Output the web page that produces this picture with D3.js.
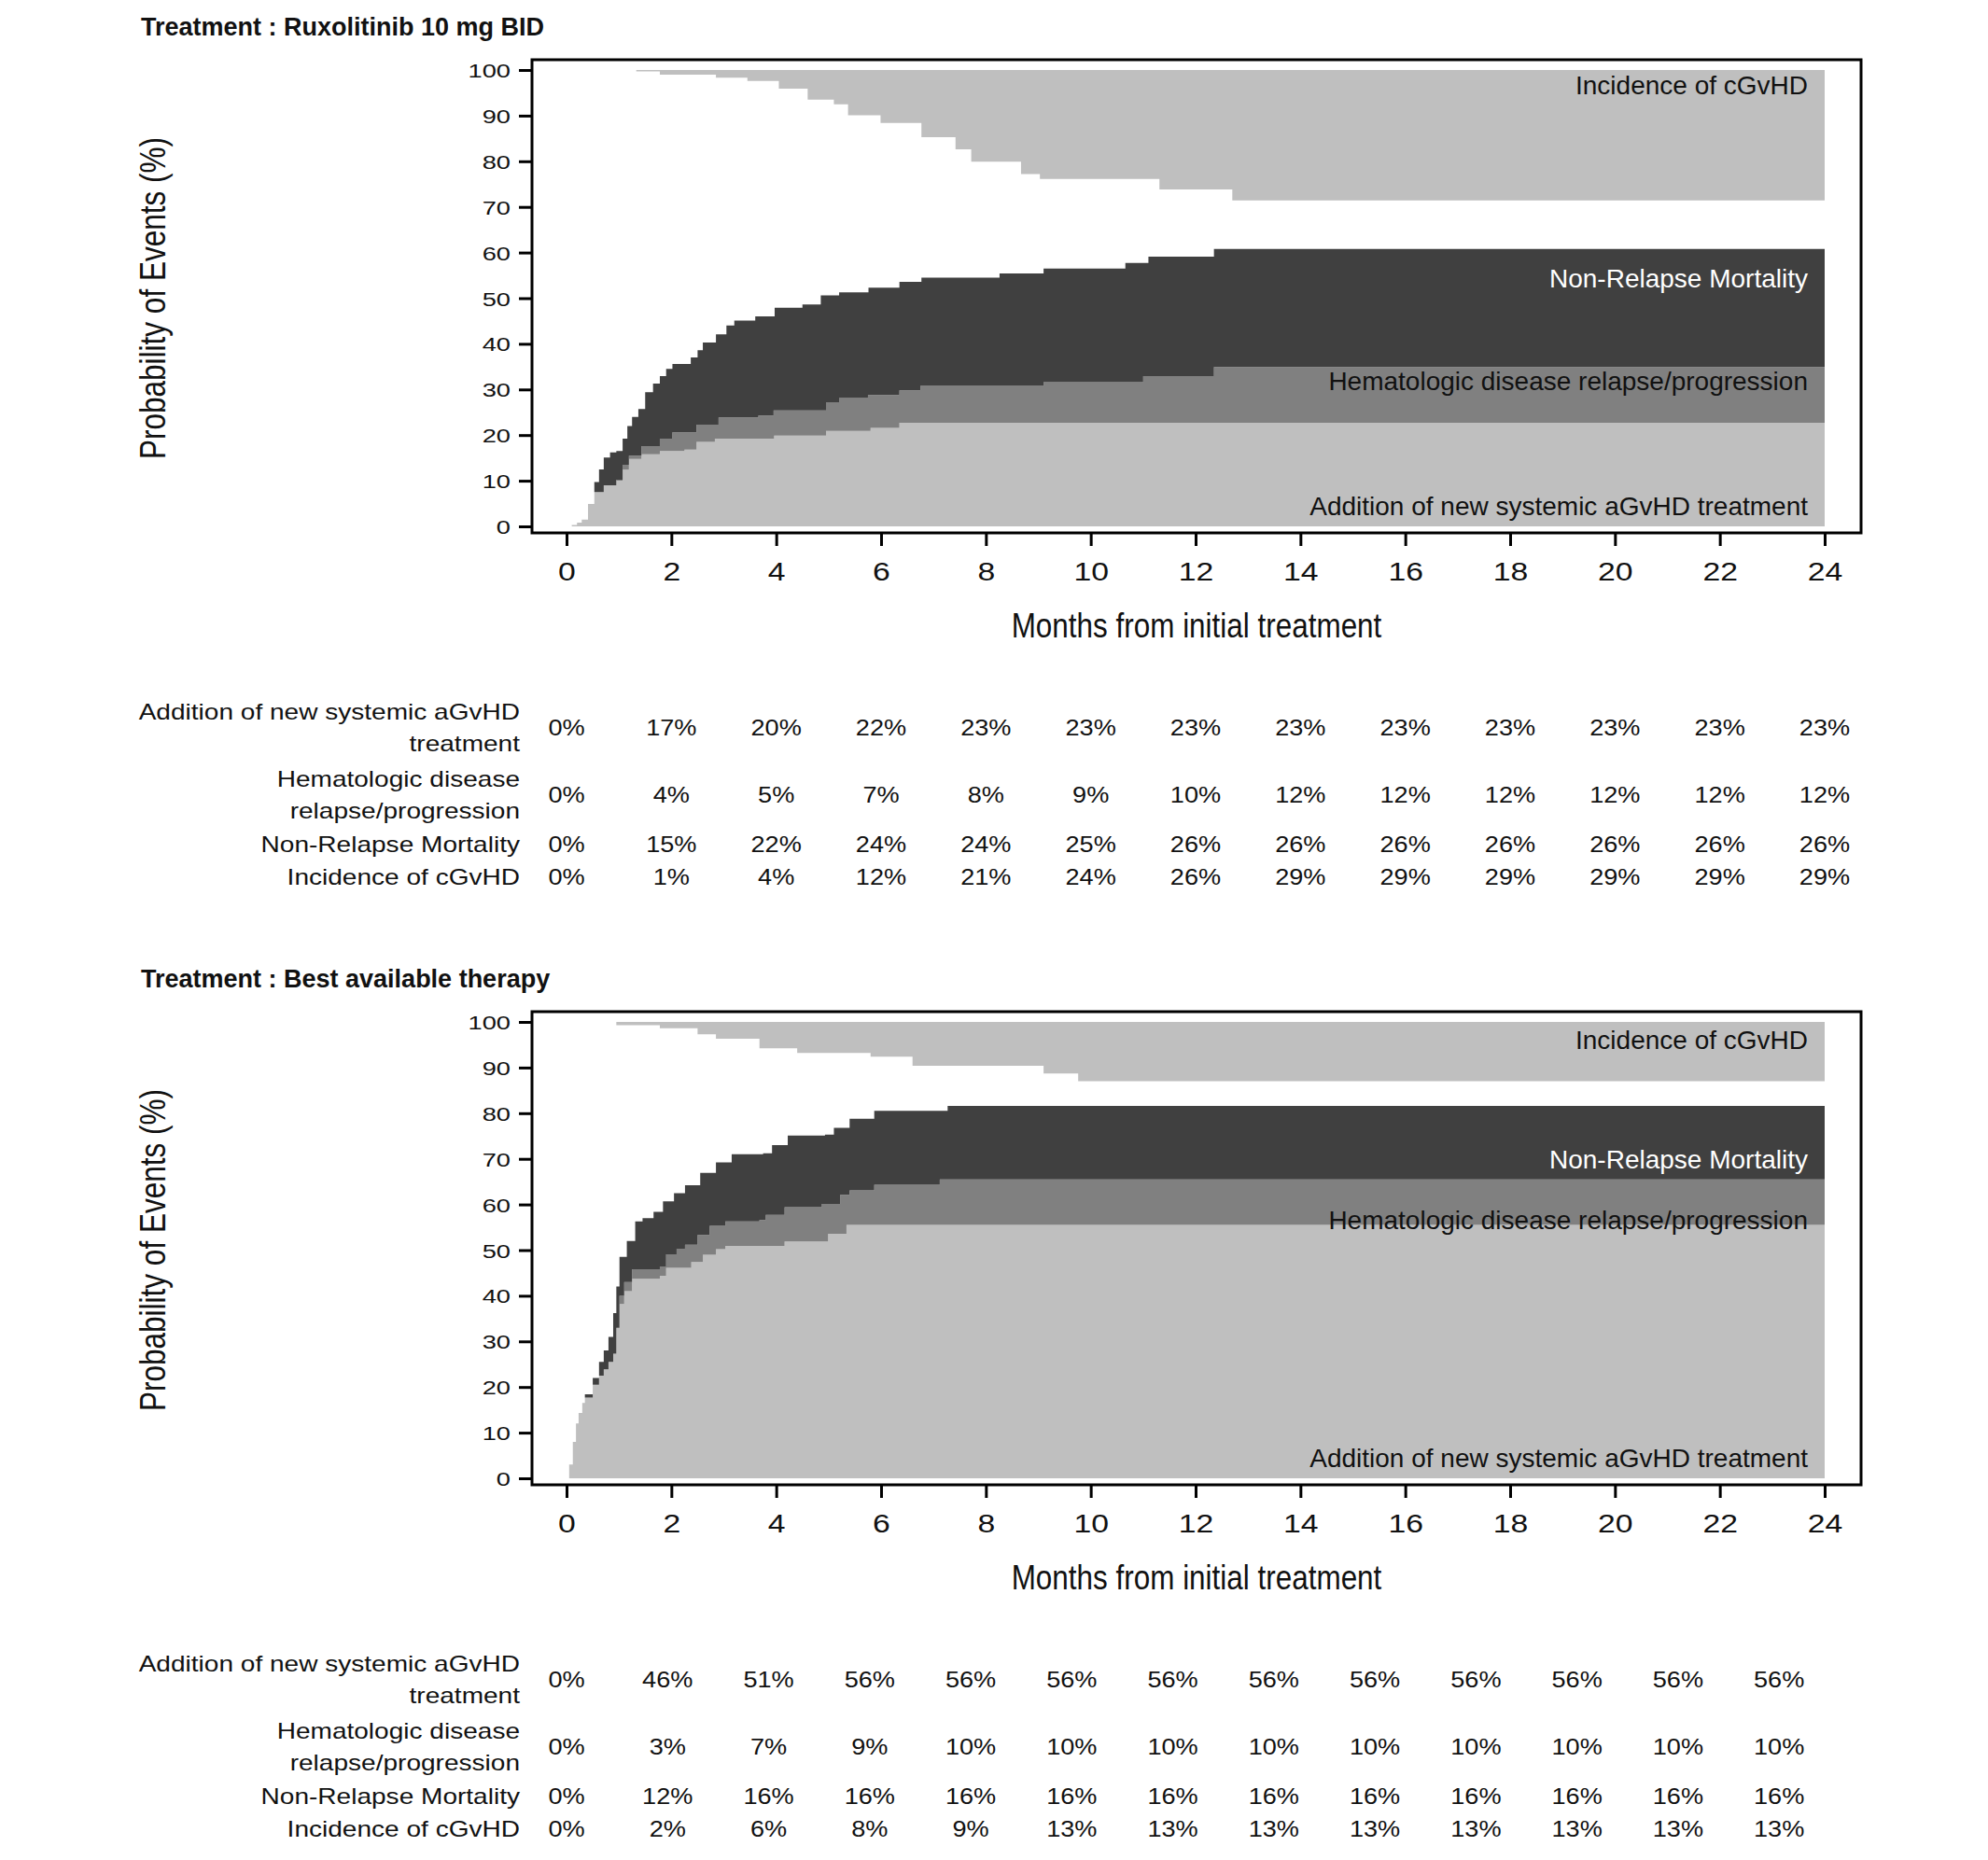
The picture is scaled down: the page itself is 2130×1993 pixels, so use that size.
<!DOCTYPE html>
<html>
<head>
<meta charset="utf-8">
<script src="https://cdn.jsdelivr.net/npm/d3@7"></script>
<style>
  body { margin: 0; background: #fff; }
  svg { display: block; font-family: "Liberation Sans", Arial, sans-serif; }
</style>
</head>
<body>
<svg id="chart" width="2130" height="1993"></svg>
<script>
// tick labels
const monthTicks = [0, 2, 4, 6, 8, 10, 12, 14, 16, 18, 20, 22, 24]
const probTicks = [0, 10, 20, 30, 40, 50, 60, 70, 80, 90, 100]

const bandNames = ['Incidence of cGvHD', 'Non-Relapse Mortality', 'Hematologic disease relapse/progression', 'Addition of new systemic aGvHD treatment']
const rowLabels = [
  ['Addition of new systemic aGvHD', 'treatment'],
  ['Hematologic disease', 'relapse/progression'],
  ['Non-Relapse Mortality'],
  ['Incidence of cGvHD']
]

// Ruxolitinib: upper edge of each stacked band, [month, %]
const ruxAddition = [[0, 0], [0.1, 0.3], [0.2, 0.8], [0.29, 1.5], [0.41, 4.9], [0.53, 7.5], [0.71, 9], [0.95, 10], [1.07, 12.4], [1.19, 14.8], [1.43, 15.8], [1.78, 16.5], [2.25, 16.8], [2.48, 18.5], [2.83, 19.2], [3.96, 19.9], [4.95, 20.9], [5.8, 21.6], [6.35, 22.7]]
const ruxRelapse = [[0, 0], [0.1, 0.3], [0.2, 0.8], [0.29, 1.5], [0.41, 4.9], [0.53, 7.5], [0.71, 9], [0.95, 10.2], [1.07, 13.5], [1.19, 15.5], [1.43, 17.6], [1.78, 19.2], [2.02, 20.6], [2.48, 22.3], [2.9, 23.9], [3.66, 24.3], [3.95, 25.4], [4.95, 27.1], [5.2, 28.1], [5.75, 28.8], [6.35, 29.8], [6.75, 30.8], [9.1, 31.6], [11.0, 32.9], [12.35, 34.9]]
const ruxNrm = [[0, 0], [0.1, 0.3], [0.2, 0.8], [0.29, 1.5], [0.41, 4.9], [0.53, 9.7], [0.62, 12.5], [0.71, 15.1], [0.83, 16.2], [0.95, 16.5], [1.07, 19.2], [1.16, 22], [1.25, 24], [1.37, 25.7], [1.5, 29.4], [1.65, 31.3], [1.78, 32.9], [1.9, 34.5], [2.02, 35.6], [2.37, 37], [2.5, 38.6], [2.6, 40.3], [2.85, 42.1], [3.05, 44], [3.2, 45.1], [3.6, 46], [3.97, 47.9], [4.5, 48.6], [4.85, 50.6], [5.2, 51.3], [5.76, 52.3], [6.35, 53.6], [6.77, 54.5], [8.26, 55.4], [9.1, 56.5], [10.66, 57.7], [11.1, 59.1], [12.35, 60.8]]
// cGvHD incidence, drawn down from 100 %
const ruxCgvhd = [[0, 0], [1.33, 0.3], [1.78, 1.0], [2.85, 1.7], [3.45, 2.4], [4.05, 4.1], [4.6, 6.5], [5.1, 7.5], [5.37, 9.9], [5.99, 11.6], [6.77, 14.7], [7.42, 17.4], [7.72, 20.1], [8.67, 22.8], [9.03, 23.9], [11.31, 26.2], [12.7, 28.6]]

// Best available therapy
const batAddition = [[0, 0], [0.05, 3], [0.12, 8], [0.18, 12], [0.23, 14.3], [0.3, 16.5], [0.35, 17.7], [0.5, 20.5], [0.62, 22.5], [0.71, 23.9], [0.8, 25.5], [0.89, 27.3], [0.95, 33], [1.01, 38.2], [1.1, 41], [1.25, 43.7], [1.78, 44.4], [1.9, 46.1], [2.38, 47.4], [2.6, 49], [2.85, 50.2], [3.03, 50.9], [4.16, 51.9], [4.99, 53.6], [5.34, 55.5]]
const batRelapse = [[0, 0], [0.05, 3], [0.12, 8], [0.18, 12], [0.23, 14.3], [0.3, 16.5], [0.35, 17.7], [0.5, 20.5], [0.62, 22.5], [0.71, 23.9], [0.8, 25.5], [0.89, 27.3], [0.95, 33], [1.01, 40], [1.1, 43], [1.25, 45.8], [1.78, 46.4], [1.9, 49.1], [2.1, 50.3], [2.26, 51.2], [2.5, 53.3], [2.73, 55.3], [3.03, 56.3], [3.68, 56.6], [3.8, 57.7], [4.16, 59.4], [4.87, 60.1], [5.22, 62.1], [5.4, 63.1], [5.87, 64.3], [7.12, 65.5]]
const batNrm = [[0, 0], [0.05, 3], [0.12, 8], [0.18, 12], [0.23, 14.3], [0.3, 16.5], [0.35, 18.4], [0.5, 22], [0.62, 25.5], [0.71, 28], [0.8, 31], [0.89, 36.2], [0.95, 42], [1.01, 48.5], [1.15, 52], [1.31, 56.3], [1.45, 57], [1.66, 58.4], [1.84, 60.7], [2.05, 62.5], [2.26, 64.2], [2.55, 66.9], [2.85, 69.2], [3.15, 71], [3.75, 71.2], [3.92, 73], [4.22, 75.1], [4.93, 75.3], [5.1, 76.8], [5.4, 78.8], [5.87, 80.5], [7.27, 81.6]]
const batCgvhd = [[0, 0], [0.95, 0.7], [1.78, 1.4], [2.5, 2.7], [2.85, 3.7], [3.68, 5.8], [4.4, 6.8], [5.8, 7.6], [6.6, 9.6], [9.1, 11.3], [9.76, 13]]

// tables at each tick month, %
const ruxAddPct = [0, 17, 20, 22, 23, 23, 23, 23, 23, 23, 23, 23, 23]
const ruxRelapsePct = [0, 4, 5, 7, 8, 9, 10, 12, 12, 12, 12, 12, 12]
const ruxNrmPct = [0, 15, 22, 24, 24, 25, 26, 26, 26, 26, 26, 26, 26]
const ruxCgvhdPct = [0, 1, 4, 12, 21, 24, 26, 29, 29, 29, 29, 29, 29]
const batAddPct = [0, 46, 51, 56, 56, 56, 56, 56, 56, 56, 56, 56, 56]
const batRelapsePct = [0, 3, 7, 9, 10, 10, 10, 10, 10, 10, 10, 10, 10]
const batNrmPct = [0, 12, 16, 16, 16, 16, 16, 16, 16, 16, 16, 16, 16]
const batCgvhdPct = [0, 2, 6, 8, 9, 13, 13, 13, 13, 13, 13, 13, 13]

const panels = [
  {
    title: 'Treatment : Ruxolitinib 10 mg BID',
    edges: [ruxAddition, ruxRelapse, ruxNrm],
    cgvhd: ruxCgvhd,
    table: [ruxAddPct, ruxRelapsePct, ruxNrmPct, ruxCgvhdPct],
    labelAt: [96.6, 54.4, 31.9, 4.5],
    tableEnd: 24
  },
  {
    title: 'Treatment : Best available therapy',
    edges: [batAddition, batRelapse, batNrm],
    cgvhd: batCgvhd,
    table: [batAddPct, batRelapsePct, batNrmPct, batCgvhdPct],
    labelAt: [96, 70, 56.6, 4.5],
    tableEnd: 23.13
  }
]

const colors = { light: '#bfbfbf', mid: '#808080', dark: '#404040' }
const svg = d3.select('#chart')
const x = d3.scaleLinear().domain([0, 24]).range([607, 1955])
const frame = { left: 570, right: 1994, top: 64, bottom: 571 }

// value of a step function at time t
const stepAt = (pts, t) => {
  let v = 0
  for (const p of pts) {
    if (p[0] <= t) v = p[1]
    else break
  }
  return v
}

const label = (g, str, px, py, o) => {
  return g.append('text')
    .attr('transform', `translate(${px},${py})${o.rotate ? ' rotate(-90)' : ''} scale(${o.sx || 1},1)`)
    .attr('text-anchor', o.anchor || 'start')
    .attr('dy', '0.35em')
    .attr('font-size', o.size)
    .attr('font-weight', o.bold ? 'bold' : null)
    .attr('fill', o.fill || '#111')
    .text(str)
}

const drawPanel = (p, dy) => {
  const g = svg.append('g').attr('transform', `translate(0,${dy})`)
  const y = d3.scaleLinear().domain([0, 100]).range([564, 75])

  label(g, p.title, 151, 29, { size: 27, bold: true })

  const times = Array.from(new Set([].concat(...p.edges, p.cgvhd).map((d) => d[0]).concat([24]))).sort((a, b) => a - b)

  const bands = [
    { lo: () => 0, hi: (t) => stepAt(p.edges[0], t), fill: colors.light },
    { lo: (t) => stepAt(p.edges[0], t), hi: (t) => stepAt(p.edges[1], t), fill: colors.mid },
    { lo: (t) => stepAt(p.edges[1], t), hi: (t) => stepAt(p.edges[2], t), fill: colors.dark },
    { lo: (t) => 100 - stepAt(p.cgvhd, t), hi: () => 100, fill: colors.light }
  ]

  bands.forEach((b) => {
    const area = d3.area()
      .curve(d3.curveStepAfter)
      .x((t) => x(t))
      .y0((t) => y(b.lo(t)))
      .y1((t) => y(b.hi(t)))
    g.append('path')
      .attr('d', area(times))
      .attr('fill', b.fill)
  })

  // band names inside the plot
  const nameFill = ['#111', '#fff', '#111', '#111']
  bandNames.forEach((n, i) => {
    label(g, n, x(24) - 18, y(p.labelAt[i]), { size: 28, anchor: 'end', fill: nameFill[i] })
  })

  g.append('rect')
    .attr('x', frame.left)
    .attr('y', frame.top)
    .attr('width', frame.right - frame.left)
    .attr('height', frame.bottom - frame.top)
    .attr('fill', 'none')
    .attr('stroke', '#000')
    .attr('stroke-width', 3)

  const yAxis = g.append('g')
    .attr('transform', `translate(${frame.left},0)`)
    .call(d3.axisLeft(y).tickValues(probTicks).tickSize(14).tickSizeOuter(0))
  yAxis.select('.domain').remove()
  yAxis.selectAll('line').attr('stroke-width', 3)
  yAxis.selectAll('text')
    .attr('x', null).attr('dy', '0.36em')
    .attr('transform', 'translate(-23,0) scale(1.3,1)')
    .attr('font-size', 21)
    .attr('font-family', 'Liberation Sans, Arial, sans-serif')
    .attr('fill', '#111')

  const xAxis = g.append('g')
    .attr('transform', `translate(0,${frame.bottom})`)
    .call(d3.axisBottom(x).tickValues(monthTicks).tickSize(14).tickSizeOuter(0))
  xAxis.select('.domain').remove()
  xAxis.selectAll('line').attr('stroke-width', 3)
  xAxis.selectAll('text')
    .attr('y', null).attr('dy', '0.35em')
    .attr('transform', 'translate(0,42) scale(1.25,1)')
    .attr('font-size', 27)
    .attr('font-family', 'Liberation Sans, Arial, sans-serif')
    .attr('fill', '#111')

  label(g, 'Months from initial treatment', (frame.left + frame.right) / 2, 670, { size: 37, anchor: 'middle', sx: 0.85 })
  label(g, 'Probability of Events (%)', 164, (y(0) + y(100)) / 2, { size: 38, anchor: 'middle', sx: 0.83, rotate: true })

  // table under the plot
  const tx = d3.scaleLinear().domain([0, 24]).range([x(0), x(p.tableEnd)])
  const rowY = [780, 852, 905, 940]
  rowLabels.forEach((lines, r) => {
    lines.forEach((ln, k) => {
      const off = lines.length > 1 ? (k === 0 ? -17 : 17) : 0
      label(g, ln, 557, rowY[r] + off, { size: 23, anchor: 'end', sx: 1.22 })
    })
    p.table[r].forEach((v, i) => {
      label(g, `${v}%`, tx(monthTicks[i]), rowY[r], { size: 23, anchor: 'middle', sx: 1.18 })
    })
  })
}

drawPanel(panels[0], 0)
drawPanel(panels[1], 1020)
</script>
</body>
</html>
